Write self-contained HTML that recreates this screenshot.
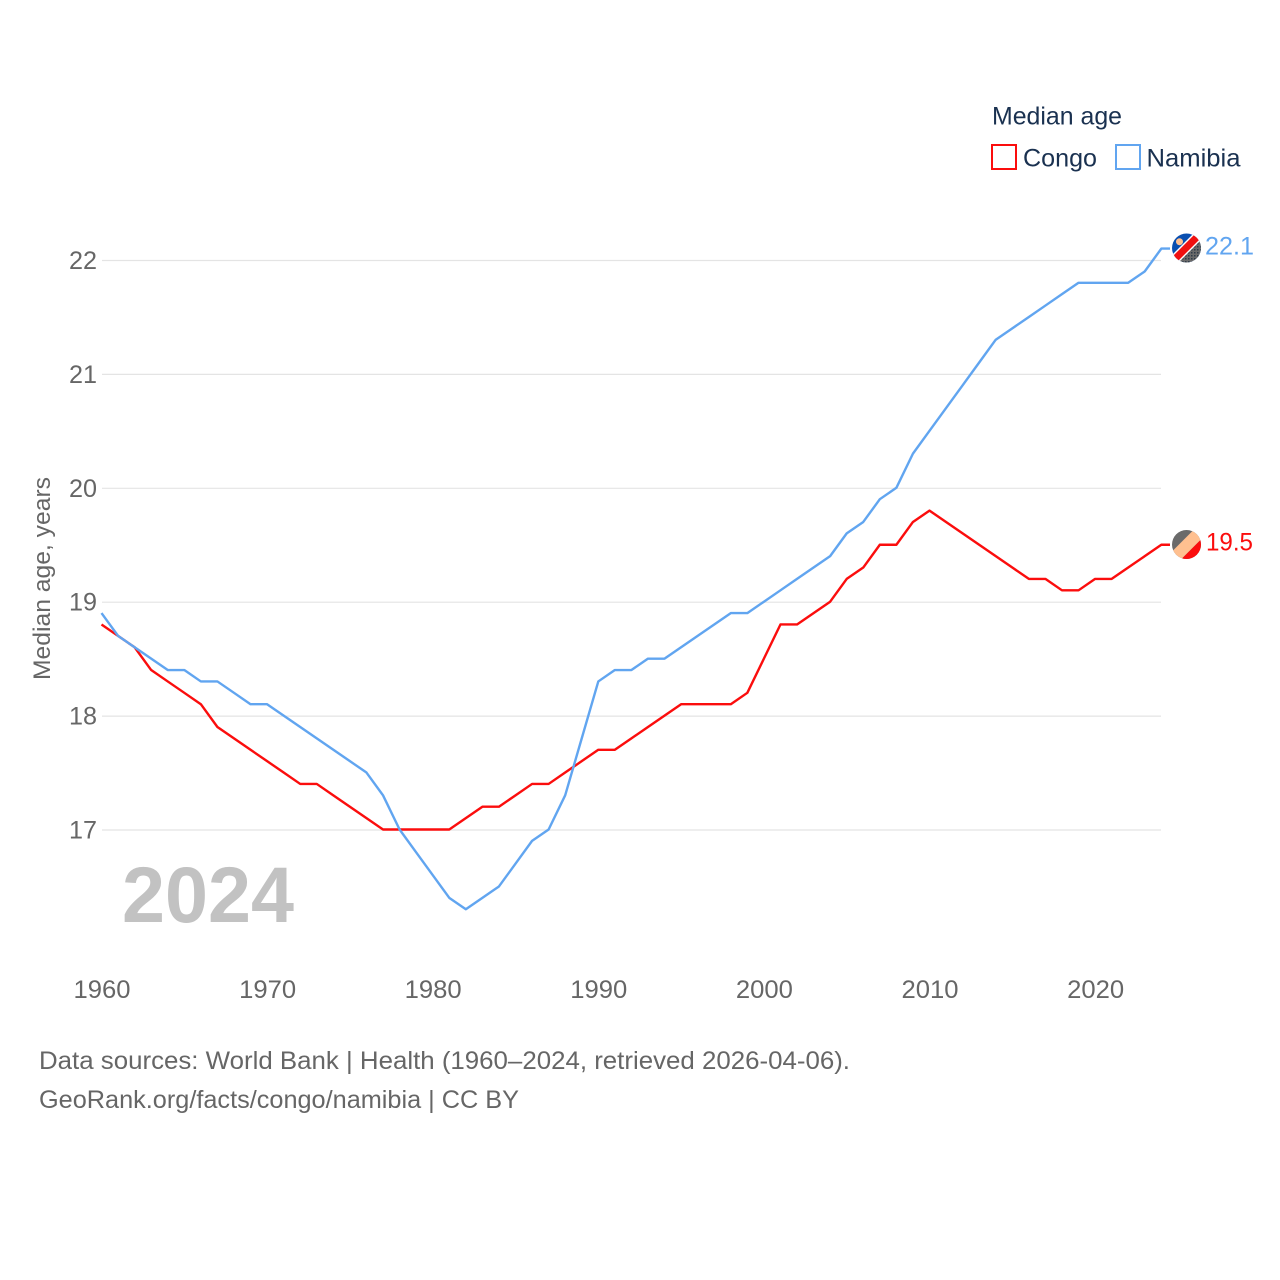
<!DOCTYPE html>
<html lang="en">
<head>
<meta charset="utf-8">
<title>Median age: Congo and Namibia</title>
<style>
html,body{margin:0;padding:0;background:#fff;}
#chart{display:block;width:1280px;height:1280px;font-family:"Liberation Sans",sans-serif;}
</style>
</head>
<body>
<svg id="chart" xmlns="http://www.w3.org/2000/svg" width="1280" height="1280" viewBox="0 0 1280 1280">
  <defs>
    <clipPath id="clip-nam"><circle cx="1186.5" cy="248" r="14.5"/></clipPath>
    <clipPath id="clip-con"><circle cx="1186.5" cy="544.5" r="14.5"/></clipPath>
    <pattern id="dots" width="3" height="3" patternUnits="userSpaceOnUse"><rect width="3" height="3" fill="#6a6a6a"/><rect width="1.5" height="1.5" fill="#2f3b48"/></pattern>
  </defs>
  <rect width="1280" height="1280" fill="#fff"/>

  <g id="grid"></g>
  <g id="y-ticks"></g>
  <g id="x-ticks"></g>

  <text transform="translate(50,680) rotate(-90)" font-size="24" fill="#666" textLength="203" lengthAdjust="spacingAndGlyphs">Median age, years</text>

  <text x="122" y="922" font-size="79" font-weight="700" fill="#c2c2c2" textLength="172" lengthAdjust="spacingAndGlyphs">2024</text>

  <g id="series"></g>

  <g clip-path="url(#clip-nam)">
    <rect x="1168" y="230" width="38" height="38" fill="#0a4fb0"/>
    <polygon points="1160,267 1212,215 1212,285 1160,285" fill="#fff"/>
    <polygon points="1160,269 1212,217 1212,227 1160,279" fill="#f01010"/>
    <polygon points="1160,281 1212,229 1212,285 1160,285" fill="url(#dots)"/>
    <circle cx="1179.5" cy="241.7" r="3.5" fill="#ffc090"/>
  </g>
  <g clip-path="url(#clip-con)">
    <rect x="1168" y="526" width="38" height="38" fill="#6a6a6a"/>
    <polygon points="1160,563.5 1212,511.5 1212,528.5 1160,580.5" fill="#ffc090"/>
    <polygon points="1160,580.5 1212,528.5 1212,585 1160,585" fill="#fb0d0d"/>
  </g>

  <text x="1205" y="254.5" font-size="25" fill="#61a5f0" textLength="49" lengthAdjust="spacingAndGlyphs">22.1</text>
  <text x="1206" y="550.5" font-size="25" fill="#fb0d0d" textLength="47" lengthAdjust="spacingAndGlyphs">19.5</text>

  <g>
    <text x="992" y="124.5" font-size="25" fill="#1a3150" textLength="130" lengthAdjust="spacingAndGlyphs">Median age</text>
    <g>
      <rect x="992" y="145" width="24" height="24" fill="#fff" stroke="#fb0d0d" stroke-width="2"/>
      <text x="1023" y="166.5" font-size="25" fill="#1a3150" textLength="74" lengthAdjust="spacingAndGlyphs">Congo</text>
    </g>
    <g>
      <rect x="1116" y="145" width="24" height="24" fill="#fff" stroke="#61a5f0" stroke-width="2"/>
      <text x="1146.5" y="166.5" font-size="25" fill="#1a3150" textLength="94" lengthAdjust="spacingAndGlyphs">Namibia</text>
    </g>
  </g>

  <text x="39" y="1069" font-size="25" fill="#666" textLength="811" lengthAdjust="spacingAndGlyphs">Data sources: World Bank | Health (1960–2024, retrieved 2026-04-06).</text>
  <text x="39" y="1108" font-size="25" fill="#666" textLength="480" lengthAdjust="spacingAndGlyphs">GeoRank.org/facts/congo/namibia | CC BY</text>
</svg>
<script>
const startYear = 1960;
const congoValues = [18.8,18.7,18.6,18.4,18.3,18.2,18.1,17.9,17.8,17.7,17.6,17.5,17.4,17.4,17.3,17.2,17.1,17.0,17.0,17.0,17.0,17.0,17.1,17.2,17.2,17.3,17.4,17.4,17.5,17.6,17.7,17.7,17.8,17.9,18.0,18.1,18.1,18.1,18.1,18.2,18.5,18.8,18.8,18.9,19.0,19.2,19.3,19.5,19.5,19.7,19.8,19.7,19.6,19.5,19.4,19.3,19.2,19.2,19.1,19.1,19.2,19.2,19.3,19.4,19.5];
const namibiaValues = [18.9,18.7,18.6,18.5,18.4,18.4,18.3,18.3,18.2,18.1,18.1,18.0,17.9,17.8,17.7,17.6,17.5,17.3,17.0,16.8,16.6,16.4,16.3,16.4,16.5,16.7,16.9,17.0,17.3,17.8,18.3,18.4,18.4,18.5,18.5,18.6,18.7,18.8,18.9,18.9,19.0,19.1,19.2,19.3,19.4,19.6,19.7,19.9,20.0,20.3,20.5,20.7,20.9,21.1,21.3,21.4,21.5,21.6,21.7,21.8,21.8,21.8,21.8,21.9,22.1];
const yTickValues = [17,18,19,20,21,22];
const xTickValues = [1960,1970,1980,1990,2000,2010,2020];

const NS = 'http://www.w3.org/2000/svg';
function xScale(year){ return 101.5 + (year - 1960) * 16.56; }
function yScale(v){ return 829.5 - (v - 17) * 113.9; }
function make(tag, attrs, parent){
  const el = document.createElementNS(NS, tag);
  for (const k in attrs) el.setAttribute(k, attrs[k]);
  parent.appendChild(el);
  return el;
}
const grid = document.getElementById('grid');
const yTicks = document.getElementById('y-ticks');
const xTicks = document.getElementById('x-ticks');
const seriesGroup = document.getElementById('series');

yTickValues.forEach(function(v){
  const line = make('line', {x1:102, x2:1161, y1:yScale(v)+0.5, y2:yScale(v)+0.5, stroke:'#e4e4e4', 'stroke-width':1.2}, grid);
  
  
  const t = make('text', {x:97, y:yScale(v)+9, 'text-anchor':'end', 'font-size':25, fill:'#666', textLength:28, lengthAdjust:'spacingAndGlyphs'}, yTicks);
  
  
  t.textContent = String(v);
});
xTickValues.forEach(function(y){
  const t = make('text', {x:xScale(y)+0.5, y:998, 'text-anchor':'middle', 'font-size':25, fill:'#666', textLength:57, lengthAdjust:'spacingAndGlyphs'}, xTicks);
  
  
  t.textContent = String(y);
});
function drawSeries(values, color, name){
  const pts = values.map(function(v, i){ return xScale(startYear + i).toFixed(2) + ',' + yScale(v).toFixed(2); });
  const lastY = yScale(values[values.length - 1]);
  pts.push('1170,' + lastY.toFixed(2));
  const line = make('polyline', {points:pts.join(' '), fill:'none', stroke:color, 'stroke-width':2.4, 'stroke-linejoin':'round'}, seriesGroup);
  
  
}
drawSeries(congoValues, '#fb0d0d', 'congo-line');
drawSeries(namibiaValues, '#61a5f0', 'namibia-line');
</script>
</body>
</html>
